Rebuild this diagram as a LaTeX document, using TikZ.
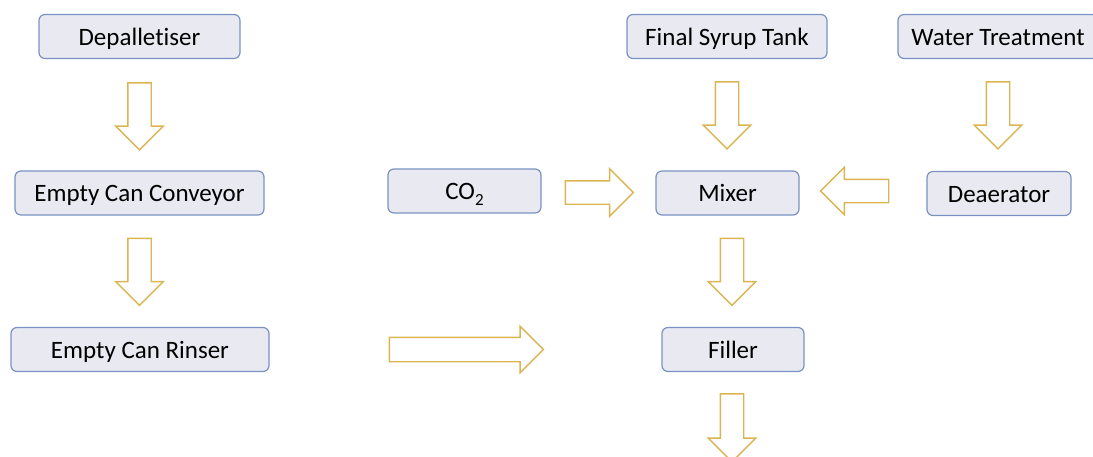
\documentclass[tikz,border=0pt]{standalone}
\usepackage{fontspec}
\setmainfont{Carlito}[Ligatures=NoCommon]
\usepackage{tikz}
\usetikzlibrary{shapes.arrows, positioning, calc}

\definecolor{boxfill}{RGB}{232,233,241}
\definecolor{boxedge}{RGB}{122,146,194}
\definecolor{arrowgold}{RGB}{218,181,82}

\begin{document}
\begin{tikzpicture}[
        x=1pt, y=-1pt,
        stage/.style={
          rectangle,
          draw=boxedge,
          fill=boxfill,
          line width=1.2pt,
          rounded corners=6pt,
          minimum height=44pt,
          inner sep=0pt,
          text height=20pt,
          text depth=3pt,
          font=\fontsize{25}{30}\selectfont
        },
        flow/.style={
          single arrow,
          draw=arrowgold,
          fill=white,
          line width=1.4pt,
          inner xsep=0pt,
          inner ysep=11pt,
          minimum width=46pt,
          single arrow head extend=12pt,
          anchor=tail,
          minimum height=#1
        },
        flow/.default=67pt
    ]
    \useasboundingbox (0,0) rectangle (1093,456);

    % Define the nodes
    \node[stage, minimum width=201pt] (depal) at (139.5,36.5) {Depalletiser};
    \node[stage, minimum width=249pt] (conveyor) at (139.5,193) {Empty Can Conveyor};
    \node[stage, minimum width=258pt] (rinser) at (140,349.5) {Empty Can Rinser};
    \node[stage, minimum width=153pt] (co2) at (464.5,191) {CO\raisebox{-6pt}{\fontsize{17}{17}\selectfont 2}};
    \node[stage, minimum width=200pt] (syrup) at (727,36.5) {Final Syrup Tank};
    \node[stage, minimum width=200pt] (water) at (998,36.5) {Water Treatment};
    \node[stage, minimum width=143pt] (mixer) at (727.5,193) {Mixer};
    \node[stage, minimum width=144pt] (deaer) at (999,193.5) {Deaerator};
    \node[stage, minimum width=142pt] (filler) at (733,349.5) {Filler};

    % Connect the nodes
    \node[flow, rotate=-90] (depalToConv) at ([yshift=-23pt]depal.south) {};
    \node[flow, rotate=-90] (convToRinse) at ([yshift=-22pt]conveyor.south) {};
    \node[flow=154pt, inner ysep=11.5pt, single arrow head extend=11pt] (rinseToFill) at ([xshift=119pt]rinser.east) {};
    \node[flow=68pt] (co2ToMix) at ([xshift=23pt, yshift=-1.5pt]co2.east) {};
    \node[flow, rotate=-90] (syrupToMix) at ([yshift=-22pt]syrup.south) {};
    \node[flow, rotate=-90] (waterToDea) at ([yshift=-22pt]water.south) {};
    \node[flow=68pt, rotate=180] (deaToMix) at ([xshift=-37pt, yshift=2.5pt]deaer.west) {};
    \node[flow, rotate=-90] (mixToFill) at ([xshift=4.5pt, yshift=-22pt]mixer.south) {};
    \node[flow=68pt, rotate=-90] (fillOut) at ([xshift=-1pt, yshift=-21pt]filler.south) {};

\end{tikzpicture}
\end{document}
